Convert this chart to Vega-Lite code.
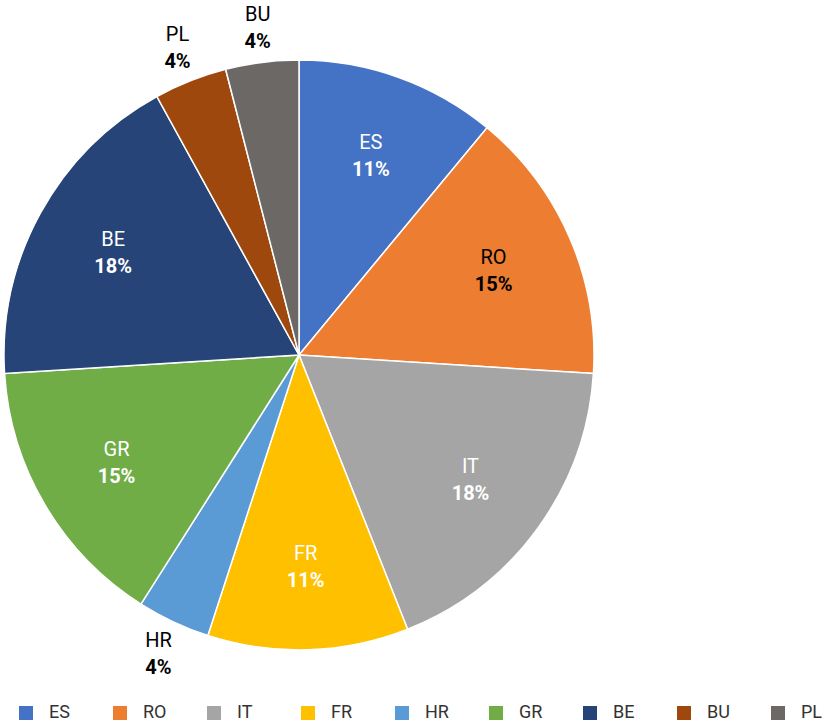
{
  "$schema": "https://vega.github.io/schema/vega-lite/v6.json",
  "width": 598,
  "height": 710,
  "padding": {"left": 0, "top": 0, "right": 230, "bottom": 14},
  "autosize": "none",
  "background": "white",
  "config": {"view": {"stroke": null}, "font": "Roboto"},
  "data": {"values": [
    {"name": "ES", "label": "ES", "value": 11, "order": 1},
    {"name": "RO", "label": "RO", "value": 15, "order": 2},
    {"name": "IT", "label": "IT", "value": 18, "order": 3},
    {"name": "FR", "label": "FR", "value": 11, "order": 4},
    {"name": "HR", "label": "HR", "value": 4, "order": 5},
    {"name": "GR", "label": "GR", "value": 15, "order": 6},
    {"name": "BE", "label": "BE", "value": 18, "order": 7},
    {"name": "BU", "label": "PL", "value": 4, "order": 8},
    {"name": "PL", "label": "BU", "value": 4, "order": 9}
  ]},
  "transform": [
    {"calculate": "datum.value > 5 ? datum.label : ''", "as": "inName"},
    {"calculate": "datum.value > 5 ? datum.value + '%' : ''", "as": "inPct"},
    {"calculate": "datum.value <= 5 ? datum.label : ''", "as": "outName"},
    {"calculate": "datum.value <= 5 ? datum.value + '%' : ''", "as": "outPct"}
  ],
  "encoding": {
    "theta": {"field": "value", "type": "quantitative", "stack": true},
    "order": {"field": "order", "type": "quantitative"}
  },
  "layer": [
    {
      "mark": {"type": "arc", "outerRadius": 295, "stroke": "white", "strokeWidth": 1.5},
      "encoding": {
        "color": {
          "field": "name", "type": "nominal",
          "scale": {
            "domain": ["ES", "RO", "IT", "FR", "HR", "GR", "BE", "BU", "PL"],
            "range": ["#4472C4", "#ED7D31", "#A5A5A5", "#FFC000", "#5B9BD5", "#70AD47", "#264478", "#9E480E", "#6C6866"]
          },
          "legend": {
            "title": null,
            "orient": "none",
            "legendX": 17,
            "legendY": 704,
            "direction": "horizontal",
            "columns": 9,
            "gridAlign": "all",
            "columnPadding": 38,
            "symbolType": "square",
            "symbolSize": 196,
            "symbolStrokeWidth": 0,
            "labelOffset": 14,
            "labelFontSize": 18,
            "labelColor": "#333333",
            "labelFont": "Roboto"
          }
        }
      }
    },
    {
      "mark": {"type": "text", "radius": 212, "dy": -13, "fontSize": 20, "font": "Roboto"},
      "encoding": {
        "text": {"field": "inName"},
        "color": {"condition": {"test": "datum.name === 'RO'", "value": "black"}, "value": "white"}
      }
    },
    {
      "mark": {"type": "text", "radius": 212, "dy": 14, "fontSize": 20, "fontWeight": "bold", "font": "Roboto"},
      "encoding": {
        "text": {"field": "inPct"},
        "color": {"condition": {"test": "datum.name === 'RO'", "value": "black"}, "value": "white"}
      }
    },
    {
      "mark": {"type": "text", "radius": 330, "dy": -13, "fontSize": 20, "font": "Roboto", "color": "black"},
      "encoding": {"text": {"field": "outName"}}
    },
    {
      "mark": {"type": "text", "radius": 330, "dy": 14, "fontSize": 20, "fontWeight": "bold", "font": "Roboto", "color": "black"},
      "encoding": {"text": {"field": "outPct"}}
    }
  ]
}
